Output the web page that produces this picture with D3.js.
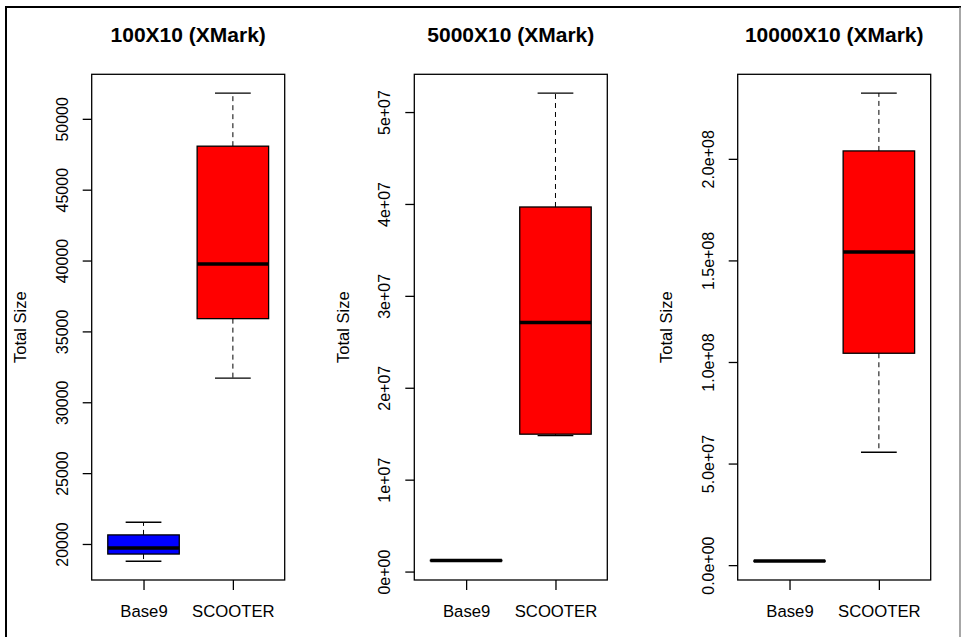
<!DOCTYPE html>
<html>
<head>
<meta charset="utf-8">
<script src="https://cdn.jsdelivr.net/npm/d3@7"></script>
<style>
  html, body { margin: 0; padding: 0; background: #fff; }
  svg { display: block; }
  text { font-family: "Liberation Sans", Arial, sans-serif; fill: #000; }
</style>
</head>
<body>
<svg id="chart" width="962" height="637"></svg>
<script>
// ---------------- data ----------------
const categories = ["Base9", "SCOOTER"];
const panelTitles = ["100X10 (XMark)", "5000X10 (XMark)", "10000X10 (XMark)"];
const yAxisTitle = "Total Size";
const boxColors = ["#0000FF", "#FF0000"];

// five-number summaries: [lower whisker, Q1, median, Q3, upper whisker]
const base9_100 = [18780, 19290, 19720, 20640, 21535];
const scooter_100 = [31700, 35900, 39760, 48070, 51820];
const base9_5000 = [1.12e6, 1.17e6, 1.20e6, 1.23e6, 1.28e6];
const scooter_5000 = [1.48e7, 1.495e7, 2.71e7, 3.967e7, 5.207e7];
const base9_10000 = [1.90e6, 1.95e6, 2.00e6, 2.05e6, 2.10e6];
const scooter_10000 = [5.557e7, 1.043e8, 1.542e8, 2.039e8, 2.324e8];

const ticks_100 = [20000, 25000, 30000, 35000, 40000, 45000, 50000];
const tickLabels_100 = ["20000", "25000", "30000", "35000", "40000", "45000", "50000"];
const ticks_5000 = [0, 1e7, 2e7, 3e7, 4e7, 5e7];
const tickLabels_5000 = ["0e+00", "1e+07", "2e+07", "3e+07", "4e+07", "5e+07"];
const ticks_10000 = [0, 5e7, 1e8, 1.5e8, 2e8];
const tickLabels_10000 = ["0.0e+00", "5.0e+07", "1.0e+08", "1.5e+08", "2.0e+08"];

const panels = [
  { title: panelTitles[0], series: [base9_100, scooter_100], ticks: ticks_100, labels: tickLabels_100 },
  { title: panelTitles[1], series: [base9_5000, scooter_5000], ticks: ticks_5000, labels: tickLabels_5000 },
  { title: panelTitles[2], series: [base9_10000, scooter_10000], ticks: ticks_10000, labels: tickLabels_10000 }
];

// ---------------- layout ----------------
const svg = d3.select("#chart");
const plotLefts = [91.7, 414.3, 737.7];
const plotWidth = 193;
const plotTop = 74.3, plotBottom = 580;

// outer frame
svg.append("line").attr("x1", 6).attr("x2", 6).attr("y1", 6).attr("y2", 637)
  .attr("stroke", "#000").attr("stroke-width", 2);
svg.append("line").attr("x1", 5).attr("x2", 961).attr("y1", 7).attr("y2", 7)
  .attr("stroke", "#000").attr("stroke-width", 2);
svg.append("line").attr("x1", 960).attr("x2", 960).attr("y1", 7).attr("y2", 637)
  .attr("stroke", "#777").attr("stroke-width", 1.3);

panels.forEach((p, i) => {
  const left = plotLefts[i], right = left + plotWidth;
  const g = svg.append("g");

  // R-style 4% extension
  const allVals = p.series.flat();
  const lo = d3.min(allVals), hi = d3.max(allVals);
  const ext = (hi - lo) * 0.04;
  const y = d3.scaleLinear().domain([lo - ext, hi + ext]).range([plotBottom, plotTop]);
  const x = d3.scaleLinear().domain([0.42, 2.58]).range([left, right]);
  const boxHalf = 0.4, capHalf = 0.2;

  // title
  g.append("text").attr("x", (left + right) / 2).attr("y", 42)
    .attr("text-anchor", "middle").attr("font-weight", "bold").attr("font-size", 21)
    .text(p.title);

  // boxes
  p.series.forEach((s, j) => {
    const cx = j + 1;
    const [wl, q1, med, q3, wh] = s;
    const dash = "5,4";
    // whiskers
    g.append("line").attr("x1", x(cx)).attr("x2", x(cx)).attr("y1", y(q3)).attr("y2", y(wh))
      .attr("stroke", "#000").attr("stroke-width", 1).attr("stroke-dasharray", dash);
    g.append("line").attr("x1", x(cx)).attr("x2", x(cx)).attr("y1", y(q1)).attr("y2", y(wl))
      .attr("stroke", "#000").attr("stroke-width", 1).attr("stroke-dasharray", dash);
    // staples
    [wl, wh].forEach(v => {
      g.append("line").attr("x1", x(cx - capHalf)).attr("x2", x(cx + capHalf))
        .attr("y1", y(v)).attr("y2", y(v)).attr("stroke", "#000").attr("stroke-width", 1.3);
    });
    // box
    g.append("rect").attr("x", x(cx - boxHalf)).attr("width", x(cx + boxHalf) - x(cx - boxHalf))
      .attr("y", y(q3)).attr("height", Math.max(0, y(q1) - y(q3)))
      .attr("fill", boxColors[j]).attr("stroke", "#000").attr("stroke-width", 1.3);
    // median
    g.append("line").attr("x1", x(cx - boxHalf)).attr("x2", x(cx + boxHalf))
      .attr("y1", y(med)).attr("y2", y(med)).attr("stroke", "#000").attr("stroke-width", 3.5);
  });

  // plot frame
  g.append("rect").attr("x", left).attr("y", plotTop).attr("width", plotWidth)
    .attr("height", plotBottom - plotTop).attr("fill", "none")
    .attr("stroke", "#000").attr("stroke-width", 1.3);

  // y axis
  const yAxis = d3.axisLeft(y).tickValues(p.ticks)
    .tickFormat((d, k) => p.labels[k]).tickSize(9).tickSizeOuter(0);
  const ya = g.append("g").attr("transform", `translate(${left},0)`).call(yAxis);
  ya.select(".domain").remove();
  ya.selectAll(".tick line").attr("stroke", "#000").attr("stroke-width", 1.3);
  ya.selectAll(".tick text")
    .attr("transform", "rotate(-90)")
    .attr("x", 0).attr("y", -24).attr("dy", 0)
    .attr("text-anchor", "middle")
    .attr("font-size", 16).attr("fill", "#000")
    .style("font-family", "'Liberation Sans', Arial, sans-serif");

  // x axis
  const xAxis = d3.axisBottom(x).tickValues([1, 2])
    .tickFormat((d, k) => categories[k]).tickSize(10).tickSizeOuter(0);
  const xa = g.append("g").attr("transform", `translate(0,${plotBottom})`).call(xAxis);
  xa.select(".domain").remove();
  xa.selectAll(".tick line").attr("stroke", "#000").attr("stroke-width", 1.3);
  xa.selectAll(".tick text").attr("y", 36.7).attr("dy", 0)
    .attr("font-size", 16.7).attr("fill", "#000")
    .style("font-family", "'Liberation Sans', Arial, sans-serif");

  // y axis title
  g.append("text")
    .attr("transform", `translate(${left - 65.5},${(plotTop + plotBottom) / 2}) rotate(-90)`)
    .attr("text-anchor", "middle").attr("font-size", 16.5)
    .text(yAxisTitle);
});
</script>
</body>
</html>
